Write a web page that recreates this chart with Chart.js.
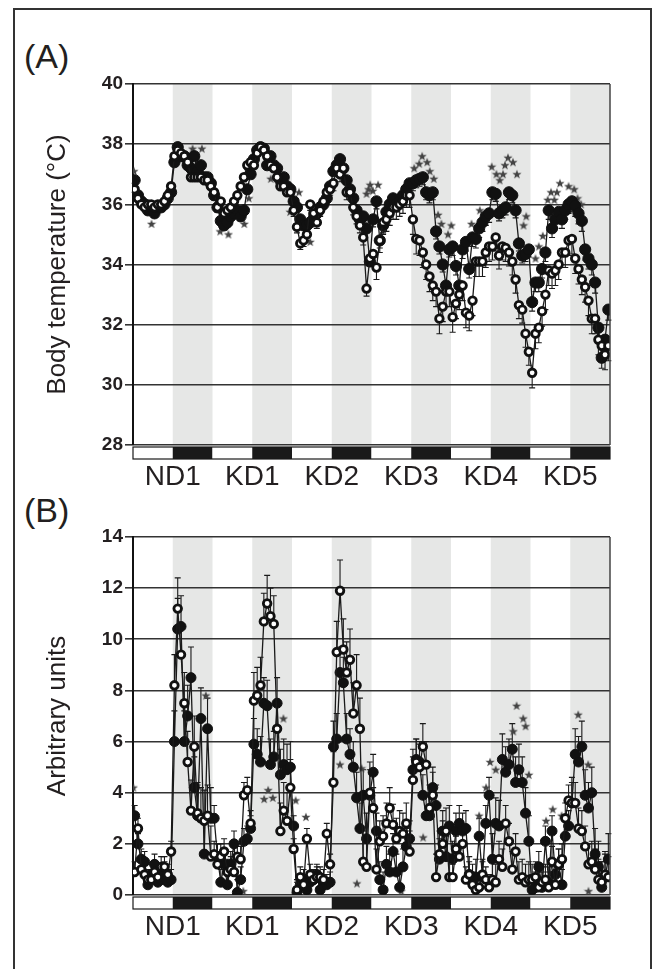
<!DOCTYPE html>
<html lang="en">
<head>
<meta charset="UTF-8">
<title>Body temperature and activity</title>
<script src="https://cdn.jsdelivr.net/npm/chart.js"></script>
<style>
  body { margin: 0; background: #fff; }
  .page { position: relative; width: 654px; height: 969px; overflow: hidden;
          font-family: "Liberation Sans", Arial, sans-serif; color: #231f20; }
  .frame { position: absolute; left: 13px; top: 8px; width: 635px; height: 990px; border: 2px solid #333; }
  .panel-label { position: absolute; left: 24px; font-size: 34px; line-height: 1; }
  canvas { position: absolute; left: 0; }
</style>
</head>
<body>
<div class="page">
  <div class="frame"></div>
  <div class="panel-label" style="top:39px">(A)</div>
  <div class="panel-label" style="top:493px">(B)</div>
  <canvas id="chartA" width="654" height="500" style="top:0"></canvas>
  <canvas id="chartB" width="654" height="479" style="top:490px"></canvas>
</div>

<script>
// day labels, one per light/dark cycle (placed at the start of the dark phase)
const dayLabels = ['ND1', 'KD1', 'KD2', 'KD3', 'KD4', 'KD5'];
const dayTickHours = [12, 36, 60, 84, 108, 132];
const phaseHours = 12;   // 12 h light / 12 h dark

// (A) body temperature, hourly means (°C)
const tempFilled = [
  36.8, 36.3, 36.1, 36.0, 35.8, 35.9, 35.7, 35.9, 35.9, 36.0, 36.2, 36.4,
  37.4, 37.9, 37.6, 37.6, 37.3, 37.2, 37.6, 37.1, 37.3, 36.9, 36.9, 36.7,
  36.3, 35.9, 35.45, 35.3, 35.4, 35.6, 35.7, 35.8, 35.6, 35.8, 36.5, 37.0,
  37.5, 37.8, 37.9, 37.85, 37.3, 37.6, 37.3, 37.2, 36.8, 36.9, 36.6, 36.5,
  36.1, 35.9, 35.5, 35.3, 35.3, 35.4, 35.5, 35.7, 35.9, 36.0, 36.2, 36.6,
  37.1, 37.3, 37.5, 37.2, 36.8, 36.5, 36.2, 35.8, 35.5, 35.6, 35.2, 34.1,
  35.5, 36.1, 34.8, 35.3, 35.75, 36.0, 36.2, 36.0, 36.1, 36.3, 36.5, 36.7,
  36.7, 36.8, 36.85, 36.9, 36.4, 36.3, 36.4, 35.1, 34.6, 34.0, 33.3, 34.5,
  34.6, 33.95, 33.3, 34.5, 34.75, 33.85, 34.9, 34.85, 35.2, 35.4, 35.6, 35.7,
  36.4, 36.35, 35.7, 35.8, 35.9, 36.4, 36.3, 35.8, 34.7, 34.3, 34.35, 34.5,
  32.75, 33.4, 33.4, 33.85, 34.4, 35.8, 35.2, 35.5, 35.75, 35.5, 35.8, 36.0,
  36.1, 35.95, 35.7, 35.45, 34.5, 34.2, 34.0, 33.4, 31.9, 30.9, 31.5, 32.5
];
const tempOpen = [
  36.5, 36.2, 36.0, 35.9, 36.0, 36.0, 35.9, 36.0, 36.0, 36.1, 36.3, 36.6,
  37.6, 37.8, 37.7, 37.6, 37.4, 36.9, 36.9, 36.9, 36.9, 36.8, 36.8, 36.6,
  36.4, 35.9, 36.1, 35.7, 35.8, 35.9, 36.1, 36.3, 36.6, 36.9, 37.3, 37.4,
  37.3, 37.7, 37.9, 37.8, 37.6, 37.3, 37.2, 36.9, 36.6, 36.6, 36.4, 36.4,
  35.8, 35.25, 34.7, 34.8, 35.0, 36.0, 35.7, 35.4, 35.8, 36.1, 36.4, 36.5,
  36.7, 37.2, 37.0, 37.2, 36.4, 36.4, 35.9, 35.6, 35.3, 34.9, 33.2, 34.2,
  34.35, 33.9, 34.8, 35.4, 35.5, 35.7, 35.9, 35.9, 36.0, 36.1, 36.3, 36.3,
  35.5, 34.85, 34.8, 34.4, 34.0, 33.6, 33.3, 33.1, 32.2, 32.6, 33.1, 33.1,
  32.25, 32.7, 33.0, 33.3, 32.4, 32.3, 32.8, 34.1, 34.1, 34.1, 34.4, 34.6,
  34.6, 34.9, 34.3, 34.6, 34.55, 34.4, 34.1, 33.5, 32.65, 32.5, 31.7, 31.1,
  30.4, 31.7, 31.9, 32.45, 33.0, 33.8, 33.7, 33.8, 34.0, 34.4, 34.4, 34.8,
  34.85, 34.2, 33.85, 33.5, 33.25, 32.8, 32.2, 32.2, 31.5, 31.3, 31.0, 31.3
];
// SEM per 12 h phase
const tempFilledErr = [0.1, 0.1, 0.15, 0.1, 0.15, 0.15, 0.25, 0.25, 0.3, 0.25, 0.3, 0.35];
const tempOpenErr   = [0.1, 0.1, 0.15, 0.1, 0.2, 0.25, 0.4, 0.5, 0.5, 0.45, 0.5, 0.5];
// significance marks [hour, °C]
const tempStars = [
  [0.3, 37.1], [5.6, 35.35], [18, 37.85], [20.8, 37.85], [26.3, 35.1], [28.8, 35.0],
  [33.6, 35.35], [35, 36.2], [41.6, 36.85], [47.4, 35.75], [50.1, 36.4], [53.5, 34.75],
  [70.5, 36.35], [71.1, 36.5], [71.6, 36.65], [72.4, 36.45], [74, 36.65],
  [84.9, 37.2], [86.4, 37.35], [87.3, 37.6], [88.8, 37.4], [89.6, 37.1], [90.8, 36.85],
  [92.1, 35.65], [93.1, 35.35], [95.1, 35.0], [96.1, 35.3], [102.2, 35.35], [104.7, 35.8],
  [108.3, 37.25], [109.7, 37.0], [110.7, 36.8], [111.7, 37.0], [112.3, 37.3], [113.2, 37.55],
  [114.7, 37.4], [115.9, 37.0], [117.9, 35.3], [118.7, 35.6], [121.5, 34.2], [122.5, 34.6],
  [123.7, 34.95], [125.2, 36.15], [126.2, 36.4], [127.2, 36.15], [128, 36.4], [128.9, 36.7],
  [131.5, 36.6], [133.2, 36.5], [134.2, 36.2], [135.3, 36.0]
];

// (B) locomotor activity, hourly means (arbitrary units)
const actFilled = [
  3.1, 2.0, 1.4, 1.3, 0.4, 0.8, 1.2, 0.5, 0.6, 0.9, 0.5, 0.6,
  6.0, 10.4, 10.5, 6.0, 7.0, 8.5, 4.2, 3.1, 6.9, 1.6, 6.5, 3.0,
  3.0, 1.5, 0.5, 1.2, 0.4, 1.2, 2.0, 0.1, 0.6, 2.1, 2.2, 2.6,
  5.9, 5.5, 5.2, 7.5, 7.4, 5.1, 5.4, 7.5, 4.7, 5.1, 4.9, 5.0,
  2.7, 0.1, 0.4, 0.6, 0.2, 0.5, 0.6, 0.8, 0.2, 0.4, 0.4, 0.5,
  5.8, 6.1, 8.7, 8.3, 6.1, 5.5, 5.0, 3.8, 2.6, 3.9, 2.2, 3.9,
  4.8, 2.5, 0.6, 0.2, 1.2, 0.9, 1.7, 0.9, 0.3, 1.1, 1.9, 2.2,
  4.9, 5.3, 5.2, 3.9, 3.1, 3.1, 4.2, 3.5, 1.4, 2.5, 1.5, 2.7,
  1.4, 2.5, 2.8, 2.5, 2.6, 0.8, 0.5, 0.7, 2.3, 0.7, 2.8, 3.9,
  1.4, 2.8, 2.7, 5.3, 4.8, 5.1, 5.7, 4.4, 4.9, 4.4, 3.2, 2.1,
  0.2, 0.3, 1.1, 0.3, 2.1, 0.5, 2.5, 0.8, 1.2, 0.4, 2.3, 2.7,
  3.6, 5.5, 5.2, 5.8, 3.9, 3.4, 4.0, 1.6, 1.1, 0.3, 0.7, 1.4
];
const actOpen = [
  0.9, 2.6, 1.0, 0.8, 0.6, 0.6, 0.9, 0.7, 1.1, 1.1, 0.8, 1.7,
  8.2, 11.2, 9.4, 7.5, 5.2, 3.3, 5.8, 3.2, 3.0, 2.9, 3.1, 1.5,
  1.6, 1.2, 1.5, 1.7, 0.9, 1.0, 0.9, 1.5, 1.4, 3.9, 4.1, 2.8,
  7.6, 7.8, 8.2, 10.7, 11.4, 10.9, 10.6, 6.5, 2.5, 3.3, 2.9, 4.2,
  1.8, 0.2, 0.7, 0.4, 2.2, 0.8, 0.6, 0.7, 0.7, 0.6, 2.4, 1.2,
  4.4, 9.5, 11.9, 9.6, 8.7, 9.2, 7.1, 8.2, 6.5, 1.3, 1.1, 4.0,
  3.4, 1.0, 2.1, 2.3, 2.8, 3.4, 2.75, 2.2, 2.5, 2.4, 2.8, 1.7,
  4.5, 5.2, 5.0, 5.8, 5.1, 3.4, 3.9, 0.7, 1.6, 2.0, 2.5, 0.7,
  0.7, 1.8, 1.5, 2.0, 0.6, 0.8, 0.4, 0.2, 0.3, 0.8, 0.6, 0.3,
  0.6, 0.5, 1.4, 1.1, 2.8, 2.1, 1.0, 1.7, 0.6, 0.7, 0.5, 0.6,
  0.6, 0.7, 0.3, 0.5, 0.6, 0.3, 1.3, 0.4, 1.2, 1.4, 3.0, 3.7,
  3.6, 3.6, 2.6, 2.5, 1.9, 1.2, 1.3, 1.0, 0.6, 0.5, 0.8, 0.7
];
const actFilledErr = [0.4, 1.2, 0.5, 1.0, 0.4, 1.0, 0.7, 0.8, 0.7, 1.0, 0.6, 1.0];
const actOpenErr   = [0.4, 1.2, 0.5, 1.1, 0.4, 1.2, 0.8, 0.9, 0.5, 0.7, 0.6, 0.8];
const actStars = [
  [0.1, 4.2], [22, 7.8], [33.3, 0.15], [39.6, 3.75], [40.8, 4.1], [42.2, 3.8], [45.4, 6.9],
  [49.1, 3.7], [52.2, 3.05], [62.5, 5.1], [67.6, 0.45], [69, 4.95], [81, 0.15], [87.6, 2.25],
  [104.5, 3.1], [106.6, 4.2], [107.8, 5.2], [109.5, 4.9], [114.8, 6.4], [115.8, 7.4],
  [117.8, 6.9], [118.5, 6.6], [119.5, 4.7], [124.7, 2.9], [126.7, 3.35], [129.4, 3.1],
  [134.4, 7.05], [137.4, 5.1], [137.5, 0.15]
];

Chart.defaults.font.family = '"Liberation Sans", Arial, sans-serif';
Chart.defaults.color = '#231f20';

// small five-point star used as the significance marker
const starImg = document.createElement('canvas');
starImg.width = 10; starImg.height = 10;
(function () {
    const c = starImg.getContext('2d');
    c.fillStyle = '#444';
    c.beginPath();
    for (let i = 0; i < 10; i++) {
        const r = i % 2 ? 2.0 : 4.8;
        const a = -Math.PI / 2 + i * Math.PI / 5;
        c.lineTo(5 + r * Math.cos(a), 5.3 + r * Math.sin(a));
    }
    c.closePath();
    c.fill();
})();

const toPoints = vals => vals.map((v, i) => ({ x: i + 0.5, y: v }));
const toErr = (segErr, n) => Array.from({ length: n }, (_, i) => segErr[Math.floor(i / phaseHours)]);

// gray dark-phase bands, light/dark bar and right frame of the plot
const dayNightPlugin = {
    id: 'dayNight',
    beforeDraw(chart) {
        const { ctx, chartArea: a, scales: { x } } = chart;
        ctx.save();
        ctx.fillStyle = '#e6e7e6';
        for (let h = phaseHours; h < 144; h += 2 * phaseHours) {
            const x0 = x.getPixelForValue(h), x1 = x.getPixelForValue(h + phaseHours);
            ctx.fillRect(x0, a.top, x1 - x0, a.bottom - a.top);
        }
        ctx.restore();
    },
    afterDraw(chart) {
        const { ctx, chartArea: a, scales: { x } } = chart;
        ctx.save();
        ctx.strokeStyle = '#444';
        ctx.lineWidth = 1.5;
        ctx.beginPath();
        ctx.moveTo(a.right, a.top);
        ctx.lineTo(a.right, a.bottom);
        ctx.stroke();
        const top = a.bottom + 2, h = 12;
        for (let k = 0; k < 12; k++) {
            const x0 = x.getPixelForValue(k * phaseHours), x1 = x.getPixelForValue((k + 1) * phaseHours);
            ctx.fillStyle = k % 2 ? '#1a1a1a' : '#fff';
            ctx.fillRect(x0, top, x1 - x0, h);
        }
        ctx.strokeStyle = '#1a1a1a';
        ctx.lineWidth = 1.2;
        ctx.strokeRect(x.getPixelForValue(0), top, x.getPixelForValue(144) - x.getPixelForValue(0), h);
        ctx.restore();
    }
};

function errorBars(sets) {
    return {
        id: 'errorBars',
        beforeDatasetsDraw(chart) {
            const { ctx, scales: { x, y } } = chart;
            ctx.save();
            ctx.strokeStyle = '#1a1a1a';
            ctx.lineWidth = 1.1;
            sets.forEach(s => {
                s.values.forEach((v, i) => {
                    const px = x.getPixelForValue(i + 0.5);
                    const py = y.getPixelForValue(v);
                    const pe = y.getPixelForValue(v + s.dir * s.err[i]);
                    ctx.beginPath();
                    ctx.moveTo(px, py); ctx.lineTo(px, pe);
                    ctx.moveTo(px - 3, pe); ctx.lineTo(px + 3, pe);
                    ctx.stroke();
                });
            });
            ctx.restore();
        }
    };
}

function makeChart(id, cfg) {
    const datasets = [
        {   // open circles
            data: toPoints(cfg.open),
            borderColor: '#1a1a1a', borderWidth: 1.3,
            pointRadius: 3.8, pointBorderWidth: 2.8,
            pointBackgroundColor: '#fff', pointBorderColor: '#111'
        },
        {   // closed circles
            data: toPoints(cfg.filled),
            borderColor: '#1a1a1a', borderWidth: 1.3,
            pointRadius: cfg.dot, pointBorderWidth: 1,
            pointBackgroundColor: '#111', pointBorderColor: '#111'
        },
        {
            data: cfg.stars.map(s => ({ x: s[0], y: s[1] })),
            showLine: false, pointStyle: starImg
        }
    ];
    return new Chart(document.getElementById(id), {
        type: 'line',
        data: { datasets },
        options: {
            responsive: false,
            animation: false,
            layout: { padding: { top: cfg.padTop, right: 44, left: 0, bottom: 0 } },
            plugins: { legend: { display: false }, tooltip: { enabled: false } },
            scales: {
                x: {
                    type: 'linear', min: 0, max: 144,
                    grid: { display: false, drawTicks: false },
                    border: { display: false },
                    afterBuildTicks: s => { s.ticks = dayTickHours.map(v => ({ value: v })); },
                    afterFit: s => { s.height = cfg.xHeight; },
                    ticks: {
                        autoSkip: false, maxRotation: 0, padding: 15,
                        font: { size: 28 },
                        callback: (v, i) => dayLabels[i]
                    }
                },
                y: {
                    min: cfg.min, max: cfg.max,
                    afterFit: s => { s.width = 133; },
                    grid: { color: '#333', lineWidth: 1.6, tickLength: 8 },
                    border: { color: '#111', width: 2 },
                    ticks: { stepSize: 2, padding: 2, font: { size: 19, weight: 'bold' } },
                    title: {
                        display: true, text: cfg.title,
                        font: { size: 26 }, padding: { top: 42, bottom: 0 }
                    }
                }
            }
        },
        plugins: [dayNightPlugin, errorBars([
            { values: cfg.filled, err: toErr(cfg.filledErr, cfg.filled.length), dir: cfg.errDir },
            { values: cfg.open, err: toErr(cfg.openErr, cfg.open.length), dir: cfg.errDir }
        ])]
    });
}

makeChart('chartA', {
    title: 'Body temperature (°C)', min: 28, max: 40, padTop: 84, xHeight: 55, dot: 5.6,
    filled: tempFilled, open: tempOpen, filledErr: tempFilledErr, openErr: tempOpenErr,
    stars: tempStars, errDir: -1
});

makeChart('chartB', {
    title: 'Arbitrary units', min: 0, max: 14, padTop: 47, xHeight: 74, dot: 5,
    filled: actFilled, open: actOpen, filledErr: actFilledErr, openErr: actOpenErr,
    stars: actStars, errDir: 1
});
</script>
</body>
</html>
